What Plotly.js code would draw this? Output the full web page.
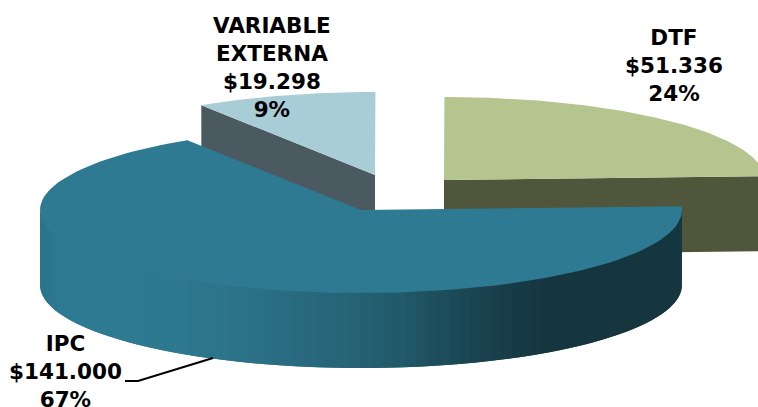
<!DOCTYPE html>
<html><head><meta charset="utf-8">
<script src="https://cdn.plot.ly/plotly-3.0.1.min.js"></script>
<style>html,body{margin:0;padding:0;background:#fff;overflow:hidden}</style>
</head><body><div id="chart" style="width:758px;height:407px"></div>
<script>
const categories = ["IPC", "VARIABLE<br>EXTERNA", "DTF"];
const values = [141000, 19298, 51336];
const valueLabels = ["$141.000", "$19.298", "$51.336"];
const percentLabels = ["67%", "9%", "24%"];
const faceColors = ["#2d7a92", "#a9cdd7", "#b5c58f"];
const cutColors = ["#2d7a92", "#4a5a60", "#50563c"];
const apexX = [361, 375, 444];
const apexY = [210, 175, 180];
const labelX = [65, 272, 674];
const labelY = [371, 67, 65];
const rx = 321, ry = 83, depth = 75, firstAngle = -2.6;
const wallStops = [[40,"#2a7489"],[60,"#2d7a92"],[170,"#2d7a90"],[260,"#2b7086"],[330,"#27667a"],[400,"#215a69"],[430,"#1e505e"],[480,"#1a424f"],[547,"#15363f"],[682,"#15363f"]];

const total = values.reduce((a, b) => a + b, 0);
const rad = d => d * Math.PI / 180;
const sweeps = values.map(v => v / total * 360);
const starts = sweeps.map((_, i) => firstAngle + sweeps.slice(0, i).reduce((a, b) => a + b, 0));
const px = (i, a) => apexX[i] + rx * Math.cos(rad(a));
const py = (i, a) => apexY[i] + ry * Math.sin(rad(a));

function poly(x, y, color, lineWidth) {
  return {type: "scatter", mode: "lines", x, y, fill: "toself", fillcolor: color,
    line: {width: lineWidth, color}, hoverinfo: "skip", showlegend: false};
}
function face(i) {
  const x = [apexX[i]], y = [apexY[i]];
  for (let k = 0; k <= 120; k++) {
    const a = starts[i] + sweeps[i] * k / 120;
    x.push(px(i, a)); y.push(py(i, a));
  }
  x.push(apexX[i]); y.push(apexY[i]);
  return poly(x, y, faceColors[i], 0);
}
function cut(i, a) {
  const x0 = apexX[i], y0 = apexY[i], x1 = px(i, a), y1 = py(i, a);
  return poly([x0, x1, x1, x0, x0], [y0, y1, y1 + depth, y0 + depth, y0], cutColors[i], 0);
}
function hex(c) { return [1, 3, 5].map(p => parseInt(c.slice(p, p + 2), 16)); }
function wallColor(x) {
  for (let k = 1; k < wallStops.length; k++) {
    if (x <= wallStops[k][0]) {
      const t = Math.max(0, (x - wallStops[k-1][0]) / (wallStops[k][0] - wallStops[k-1][0]));
      const a = hex(wallStops[k-1][1]), b = hex(wallStops[k][1]);
      return "rgb(" + a.map((v, j) => Math.round(v + (b[j] - v) * t)).join(",") + ")";
    }
  }
  return wallStops[wallStops.length - 1][1];
}
function wall(i) {
  // strips are painted right to left, overlap each other and start under the face, so no seams show
  const out = [];
  const step = 2;
  for (let a = 0; a < 180; a += step) {
    const b = Math.min(180, a + step * 2), x = [], y = [];
    for (let k = 0; k <= 4; k++) { const t = a + (b - a) * k / 4; x.push(px(i, t)); y.push(py(i, t) - 1.5); }
    for (let k = 4; k >= 0; k--) { const t = a + (b - a) * k / 4; x.push(px(i, t)); y.push(py(i, t) + depth); }
    x.push(x[0]); y.push(y[0]);
    out.push(poly(x, y, wallColor(px(i, a + step / 2)), 0));
  }
  return out;
}

const traces = [
  cut(1, starts[1]), face(1),
  cut(2, starts[2] + sweeps[2]), face(2),
  ...wall(0), face(0),
  {type: "scatter", mode: "lines", x: [125, 138, 213], y: [381, 381, 358],
   line: {color: "#000", width: 2}, hoverinfo: "skip", showlegend: false}
];

const annotations = categories.map((c, i) => ({
  x: labelX[i], y: labelY[i], xref: "x", yref: "y", showarrow: false,
  xanchor: "center", yanchor: "middle", align: "center",
  text: "<b>" + c + "<br>" + valueLabels[i] + "<br>" + percentLabels[i] + "</b>",
  font: {family: "DejaVu Sans", size: 21.5, color: "#000"}
}));

Plotly.newPlot("chart", traces, {
  width: 758, height: 407, margin: {l: 0, r: 0, t: 0, b: 0},
  paper_bgcolor: "#fff", plot_bgcolor: "#fff", showlegend: false,
  xaxis: {range: [0, 758], visible: false, fixedrange: true},
  yaxis: {range: [407, 0], visible: false, fixedrange: true},
  annotations
}, {displayModeBar: false, staticPlot: true});
</script></body></html>
